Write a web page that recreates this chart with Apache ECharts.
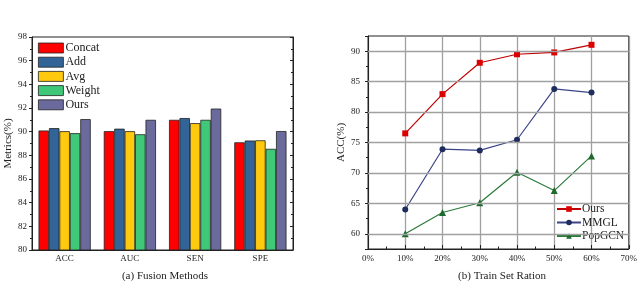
<!DOCTYPE html>
<html><head><meta charset="utf-8">
<script src="https://cdn.jsdelivr.net/npm/echarts@6/dist/echarts.min.js"></script>
<style>html,body{margin:0;padding:0;background:#fff}#c{width:640px;height:281px}</style>
</head><body><div id="c"></div>
<script>
// Left chart: fusion methods
const metrics = ['ACC', 'AUC', 'SEN', 'SPE'];
const concatVals = [90.1, 90.04, 91.0, 89.1];
const addVals = [90.3, 90.25, 91.15, 89.25];
const avgVals = [90.04, 90.04, 90.72, 89.27];
const weightVals = [89.87, 89.78, 91.0, 88.55];
const oursBarVals = [91.06, 91.0, 91.95, 90.05];
const barNames = ['Concat', 'Add', 'Avg', 'Weight', 'Ours'];
const barColors = ['#ff0000', '#336497', '#ffc90e', '#3ec878', '#6b6a9d'];

// Right chart: train set ratio
const ratios = [10, 20, 30, 40, 50, 60];
const oursLine = [76.5, 82.95, 88.1, 89.5, 89.8, 91.05];
const mmglLine = [64.0, 73.9, 73.7, 75.45, 83.8, 83.2];
const popgcnLine = [60.0, 63.5, 65.1, 70.1, 67.1, 72.8];
const lineNames = ['Ours ', 'MMGL', 'PopGCN'];
const gridValues = [60, 65, 70, 75, 80, 85, 90];

const serif = 'Liberation Serif';
const chart = echarts.init(document.getElementById('c'), null, {renderer: 'canvas'});
const barSets = [concatVals, addVals, avgVals, weightVals, oursBarVals];

const series = barSets.map((d, i) => ({
  name: barNames[i], type: 'bar', xAxisIndex: 0, yAxisIndex: 0,
  data: d, barGap: '0%', barCategoryGap: '20%',
  itemStyle: {color: barColors[i], borderColor: '#222', borderWidth: 0.8}
}));

function pairs(vals) { return ratios.map((r, i) => [r, vals[i]]); }
series.push({
  name: lineNames[0], type: 'line', xAxisIndex: 1, yAxisIndex: 2, data: pairs(oursLine),
  symbol: 'rect', symbolSize: 6, lineStyle: {color: '#c00000', width: 1.2},
  itemStyle: {color: '#dd0000'},
  markLine: {silent: true, symbol: 'none', label: {show: false},
    lineStyle: {color: '#a0a0a0', width: 1.3, type: 'solid'},
    data: gridValues.map(v => ({yAxis: v}))}
});
series.push({
  name: lineNames[1], type: 'line', xAxisIndex: 1, yAxisIndex: 2, data: pairs(mmglLine),
  symbol: 'circle', symbolSize: 6, lineStyle: {color: '#3a4588', width: 1.2},
  itemStyle: {color: '#1f2d5e'}
});
series.push({
  name: lineNames[2], type: 'line', xAxisIndex: 1, yAxisIndex: 2, data: pairs(popgcnLine),
  symbol: 'triangle', symbolSize: 7, lineStyle: {color: '#2a7a3a', width: 1.2},
  itemStyle: {color: '#1d6a2e'}
});

const axisFont = {fontFamily: serif, fontSize: 9, color: '#222'};
chart.setOption({
  animation: false,
  title: [
    {text: '(a) Fusion Methods', left: 160, top: 266, textAlign: 'center',
     textStyle: {fontFamily: serif, fontSize: 11, fontWeight: 'normal', color: '#222'}},
    {text: '(b) Train Set Ration', left: 497, top: 266, textAlign: 'center',
     textStyle: {fontFamily: serif, fontSize: 11, fontWeight: 'normal', color: '#222'}}
  ],
  legend: [
    {data: barNames.map(n => ({name: n, icon: 'rect'})), orient: 'vertical', left: 38, top: 42,
     padding: 0, itemWidth: 25, itemHeight: 10, itemGap: 2.2,
     textStyle: {fontFamily: serif, fontSize: 12, color: '#222', padding: [0, 0, 0, -3]},
     itemStyle: {borderColor: '#222', borderWidth: 0.8}},
    {data: lineNames, orient: 'vertical', left: 556, top: 203, padding: 0,
     itemWidth: 24, itemHeight: 7, itemGap: 1.5,
     textStyle: {fontFamily: serif, fontSize: 11.5, color: '#222', padding: [0, 0, 0, -4]}}
  ],
  grid: [
    {left: 32, right: 347, top: 37, bottom: 31, show: true, borderColor: '#222', borderWidth: 1},
    {left: 368, right: 9, top: 36, bottom: 32, show: true, borderColor: '#222', borderWidth: 1}
  ],
  xAxis: [
    {type: 'category', gridIndex: 0, data: metrics,
     axisLine: {lineStyle: {color: '#222'}}, axisTick: {show: false},
     axisLabel: Object.assign({margin: 4}, axisFont)},
    {type: 'value', gridIndex: 1, min: 0, max: 70, interval: 10,
     axisLine: {onZero: false, lineStyle: {color: '#222'}},
     axisTick: {inside: true, length: 4, lineStyle: {color: '#222'}},
     minorTick: {show: true, splitNumber: 2, length: 2.5, lineStyle: {color: '#222'}},
     splitLine: {show: true, lineStyle: {color: '#a0a0a0', width: 1.3}},
     axisLabel: Object.assign({margin: 5, formatter: v => v + '%'}, axisFont)}
  ],
  yAxis: [
    {type: 'value', gridIndex: 0, min: 80, max: 98, interval: 2,
     name: 'Metrics(%)', nameLocation: 'middle', nameGap: 18,
     nameTextStyle: {fontFamily: serif, fontSize: 11, color: '#222'},
     axisLine: {show: true, lineStyle: {color: '#222'}},
     axisTick: {show: true, length: 3, lineStyle: {color: '#222'}},
     minorTick: {show: true, splitNumber: 2, length: 2, lineStyle: {color: '#222'}},
     splitLine: {show: false},
     axisLabel: Object.assign({margin: 5}, axisFont)},
    {type: 'value', gridIndex: 0, position: 'right', min: 80, max: 98, interval: 2,
     axisLine: {show: true, lineStyle: {color: '#222'}},
     axisTick: {show: true, inside: true, length: 3, lineStyle: {color: '#222'}},
     minorTick: {show: true, splitNumber: 2, length: 2, lineStyle: {color: '#222'}},
     axisLabel: {show: false}, splitLine: {show: false}},
    {type: 'value', gridIndex: 1, min: 57.5, max: 92.5, splitNumber: 7,
     name: 'ACC(%)', nameLocation: 'middle', nameGap: 17,
     nameTextStyle: {fontFamily: serif, fontSize: 11, color: '#222'},
     axisLine: {show: true, lineStyle: {color: '#222'}},
     axisTick: {show: true, length: 3, lineStyle: {color: '#222'}},
     minorTick: {show: true, splitNumber: 2, length: 2, lineStyle: {color: '#222'}},
     splitLine: {show: false},
     axisLabel: Object.assign({margin: 8, formatter: v => (v % 5 === 0 ? String(v) : '')}, axisFont)}
  ],
  series: series
});
</script></body></html>
